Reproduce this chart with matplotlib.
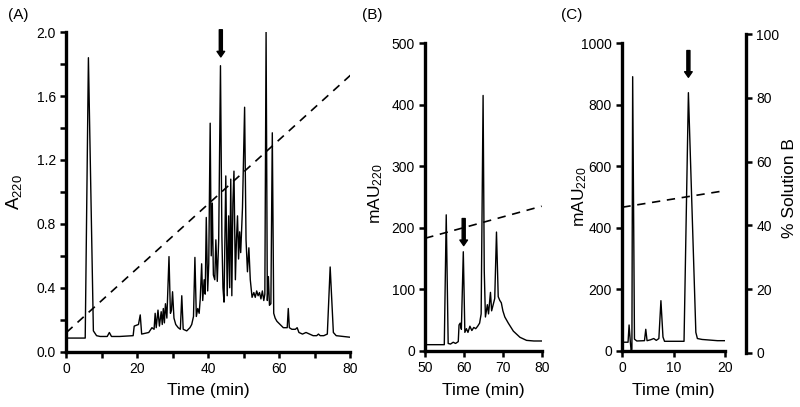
"""HPLC chromatograms, three panels (A), (B), (C)."""
import matplotlib

matplotlib.use("Agg")
from matplotlib import pyplot as plt
from matplotlib.ticker import MultipleLocator

plt.rcParams["font.family"] = ["Liberation Sans", "DejaVu Sans"]
plt.rcParams["mathtext.fontset"] = "custom"
plt.rcParams["mathtext.rm"] = "Liberation Sans"
plt.rcParams["mathtext.it"] = "Liberation Sans"
plt.rcParams["mathtext.default"] = "rm"

# panel A: absorbance trace
a_time = [
    0, 5.3, 6.2, 7.6, 8.5, 9.5, 11.5, 12.1, 12.7, 15, 18.8, 19.1, 20.3, 20.8,
    21.2, 23.2, 24.1, 24.7, 25.0, 25.3, 25.8, 26.2, 26.7, 27.0, 27.3, 27.6,
    27.9, 28.3, 28.9, 29.3, 29.6, 29.9, 30.3, 30.8, 31.5, 32.1, 32.5, 32.9,
    33.9, 34.8, 35.3, 35.8, 36.2, 36.6, 37.0, 37.4, 37.7, 38.1, 38.4, 38.8,
    39.1, 39.4, 39.8, 40.1, 40.5, 40.8, 41.1, 41.4, 41.8, 42.1, 42.5, 42.9,
    43.4, 43.8, 44.1, 44.4, 44.9, 45.3, 45.7, 46.0, 46.3, 46.6, 46.9, 47.2,
    47.6, 47.9, 48.2, 48.5, 48.8, 49.1, 49.6, 49.9, 50.2, 50.6, 51.0, 51.4,
    51.8, 52.3, 52.8, 53.2, 53.6, 54.0, 54.4, 54.8, 55.2, 55.6, 55.9, 56.25,
    56.6, 56.9, 57.2, 57.6, 58.0, 58.4, 58.8, 59.3, 60.2, 61.1, 62.2, 62.5,
    62.8, 63.5, 64.5, 65.0, 65.5, 66.5, 67.5, 68.5, 69.5, 70.5, 71.0, 71.5,
    72.5, 73.5, 74.3, 75.2, 76.0, 78.0, 80.0,
]
a_abs = [
    0.085, 0.085, 1.84, 0.13, 0.10, 0.095, 0.095, 0.12, 0.095, 0.095, 0.10,
    0.16, 0.17, 0.23, 0.11, 0.12, 0.15, 0.14, 0.24, 0.15, 0.26, 0.16, 0.25,
    0.17, 0.27, 0.18, 0.30, 0.21, 0.595, 0.24, 0.26, 0.375, 0.21, 0.17, 0.15,
    0.14, 0.35, 0.14, 0.13, 0.15, 0.17, 0.22, 0.59, 0.22, 0.27, 0.24, 0.33,
    0.55, 0.32, 0.45, 0.36, 0.84, 0.38, 0.55, 1.43, 0.60, 0.93, 0.48, 0.45,
    0.70, 0.44, 0.70, 1.79, 0.72, 0.40, 0.31, 1.10, 0.35, 0.85, 0.40, 1.08,
    0.35, 0.93, 1.13, 0.45, 0.70, 0.85, 0.58, 0.75, 0.62, 0.90, 1.20, 1.53,
    0.70, 0.50, 0.65, 0.45, 0.34, 0.37, 0.34, 0.38, 0.35, 0.37, 0.33, 0.38,
    0.32, 0.36, 2.0, 0.32, 0.47, 0.29, 0.30, 1.37, 0.24, 0.21, 0.19, 0.17,
    0.15, 0.15, 0.27, 0.15, 0.14, 0.14, 0.15, 0.12, 0.11, 0.12, 0.11, 0.10,
    0.10, 0.11, 0.10, 0.10, 0.11, 0.53, 0.12, 0.10, 0.095, 0.09,
]
a_grad_time = [0, 80]
a_grad = [0.12, 1.73]

# panel B
b_time = [
    50, 54.9, 55.4, 55.9, 56.5, 57.2, 57.8, 58.5, 58.7, 59.0, 59.3, 59.8,
    60.2, 60.6, 61.0, 61.5, 62.0, 62.5, 63.0, 63.5, 64.0, 64.4, 64.9, 65.2,
    65.5, 66.0, 66.3, 66.8, 67.1, 67.5, 67.9, 68.35, 68.8, 69.2, 69.6, 70.0,
    70.5, 71.4, 72.7, 74.4, 76.1, 78.0, 80.0,
]
b_mau = [
    10, 10, 221, 12, 11, 14, 12, 15, 42, 45, 35, 161, 30, 36, 30, 40, 33, 38,
    36, 40, 45, 60, 415, 130, 55, 75, 60, 95, 65, 75, 85, 193, 88, 82, 78, 65,
    55, 45, 32, 22, 17, 16, 16,
]
b_grad_time = [50, 80]
b_grad = [183, 235]

# panel C
c_time = [
    0, 1.1, 1.3, 1.55, 1.7, 1.85, 2.0, 2.35, 2.8, 4.3, 4.55, 4.8, 5.5, 6.1,
    6.6, 7.1, 7.5, 7.9, 8.2, 12.0, 12.85, 14.3, 14.6, 15.5, 17.0, 18.5, 20.0,
]
c_mau = [
    28, 28, 84, 28, 0, 5, 891, 38, 32, 33, 70, 33, 36, 40, 34, 40, 163, 45,
    31, 31, 839, 60, 40, 37, 35, 33, 33,
]
c_grad_time = [0, 20]
c_grad = [45.7, 50.9]

# arrows: x, tail y, head y
a_arrow = (43.5, 2.015, 1.845)
b_arrow = (59.9, 215, 171)
c_arrow = (12.85, 976, 889)

SPINE_W = 2.4
FS_TICK = 10
FS_LABEL = 12.5


def style_axes(ax: plt.Axes) -> None:
    """Thick left/bottom spines, outward ticks."""
    ax.spines["top"].set_visible(False)
    ax.spines["right"].set_visible(False)
    for side in ("left", "bottom"):
        ax.spines[side].set_linewidth(SPINE_W)
    ax.tick_params(which="both", direction="out", width=1.8, length=4.5,
                   labelsize=FS_TICK, pad=3)
    ax.set_facecolor("none")


def draw_arrow(ax: plt.Axes, arrow: tuple) -> None:
    """Draw a thick downward arrow."""
    x, y_tail, y_head = arrow
    ax.annotate(
        "",
        xy=(x, y_head),
        xytext=(x, y_tail),
        arrowprops=dict(width=2.2, headwidth=5.5, headlength=4,
                        shrink=0, color="black"),
        annotation_clip=False,
    )


fig = plt.figure(figsize=(8, 4.07), dpi=100)

# (A)
ax_a = fig.add_axes([0.083, 0.136, 0.355, 0.785])
ax_a.plot(a_time, a_abs, color="black", lw=1.0)
ax_a.plot(a_grad_time, a_grad, color="black", lw=1.2, ls=(0, (5, 4)))
ax_a.set_xlim(0, 80)
ax_a.set_ylim(0, 2.0)
ax_a.xaxis.set_major_locator(MultipleLocator(20))
ax_a.xaxis.set_minor_locator(MultipleLocator(10))
ax_a.yaxis.set_major_locator(MultipleLocator(0.4))
ax_a.yaxis.set_minor_locator(MultipleLocator(0.2))
ax_a.yaxis.set_major_formatter(lambda v, _: f"{v:.1f}")
style_axes(ax_a)
ax_a.set_xlabel("Time (min)", fontsize=FS_LABEL, va="top")
ax_a.xaxis.set_label_coords(0.5, -0.098)
ax_a.set_ylabel("A$_{220}$", fontsize=FS_LABEL + 1)
ax_a.yaxis.set_label_coords(-0.15, 0.5)
draw_arrow(ax_a, a_arrow)

# (B)
ax_b = fig.add_axes([0.5316, 0.138, 0.1455, 0.756])
ax_b.plot(b_time, b_mau, color="black", lw=1.0)
ax_b.plot(b_grad_time, b_grad, color="black", lw=1.2, ls=(0, (5, 4)))
ax_b.set_xlim(50, 80)
ax_b.set_ylim(0, 500)
ax_b.xaxis.set_major_locator(MultipleLocator(10))
ax_b.yaxis.set_major_locator(MultipleLocator(100))
style_axes(ax_b)
ax_b.set_xlabel("Time (min)", fontsize=FS_LABEL, va="top")
ax_b.xaxis.set_label_coords(0.5, -0.106)
ax_b.set_ylabel("mAU$_{220}$", fontsize=FS_LABEL)
ax_b.yaxis.set_label_coords(-0.346, 0.51)
draw_arrow(ax_b, b_arrow)

# (C)
ax_c = fig.add_axes([0.778, 0.138, 0.1284, 0.756])
ax_c.plot(c_time, c_mau, color="black", lw=1.0)
ax_c.set_xlim(0, 20)
ax_c.set_ylim(0, 1000)
ax_c.xaxis.set_major_locator(MultipleLocator(10))
ax_c.yaxis.set_major_locator(MultipleLocator(200))
style_axes(ax_c)
ax_c.set_xlabel("Time (min)", fontsize=FS_LABEL, va="top")
ax_c.xaxis.set_label_coords(0.5, -0.106)
ax_c.set_ylabel("mAU$_{220}$", fontsize=FS_LABEL)
ax_c.yaxis.set_label_coords(-0.33, 0.5)
draw_arrow(ax_c, c_arrow)

# (C) right axis: % solution B
ax_r = fig.add_axes([0.778, 0.1334, 0.1284, 0.7823])
ax_r.plot(c_grad_time, c_grad, color="black", lw=1.2, ls=(0, (5, 4)))
ax_r.set_xlim(0, 20)
ax_r.set_ylim(0, 100)
ax_r.set_facecolor("none")
for side in ("left", "top", "bottom"):
    ax_r.spines[side].set_visible(False)
ax_r.spines["right"].set_linewidth(SPINE_W)
ax_r.spines["right"].set_position(("outward", 15))
ax_r.xaxis.set_visible(False)
ax_r.yaxis.tick_right()
ax_r.yaxis.set_label_position("right")
ax_r.yaxis.set_major_locator(MultipleLocator(20))
ax_r.tick_params(direction="out", width=1.8, length=4.5, labelsize=FS_TICK, pad=3)
ax_r.set_ylabel("% Solution B", fontsize=FS_LABEL)
ax_r.yaxis.set_label_coords(1.552, 0.517)

for x, label in ((8, "(A)"), (361.7, "(B)"), (560.7, "(C)")):
    fig.text(x / 800, 1 - 15 / 407, label, fontsize=11, ha="left", va="center")

fig.savefig("out.png", dpi=100)
